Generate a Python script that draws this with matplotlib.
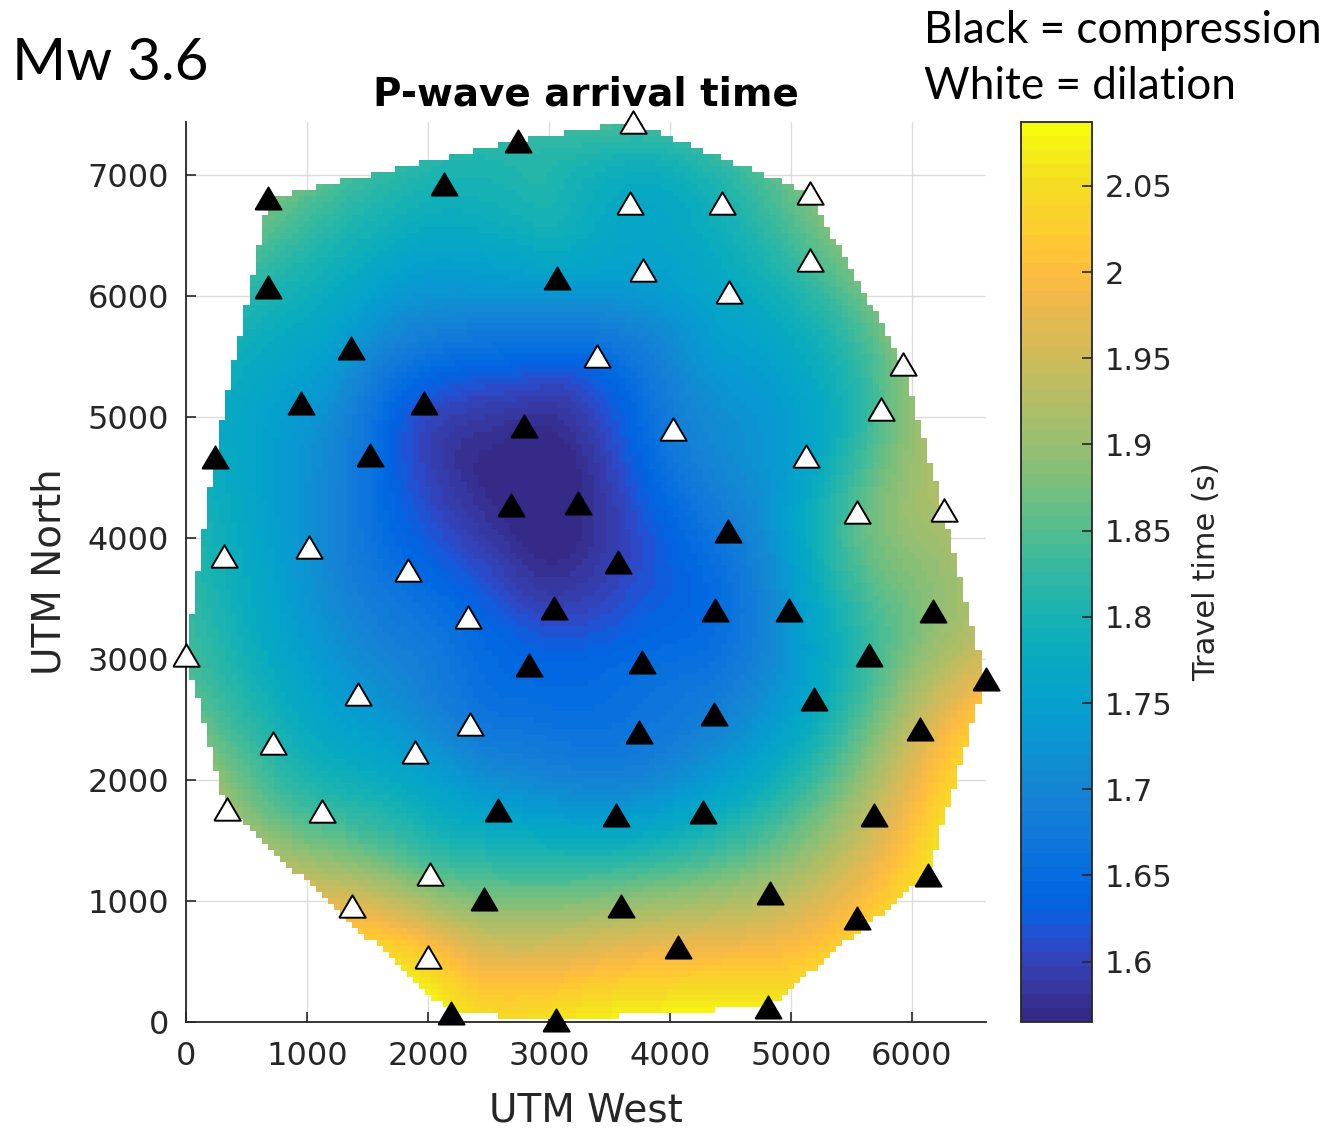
import numpy as np
import matplotlib
matplotlib.use("Agg")
import matplotlib.pyplot as plt
import matplotlib.tri as mtri
from matplotlib.colors import ListedColormap
from matplotlib.ticker import FixedLocator

# ---------------- data ----------------
station_x = [3692, 2741, 2135, 680, 3669, 4432, 5155, 680, 3069, 3774,
             4490, 5155, 1364, 3394, 5926, 948, 1964, 2793, 4027, 5746,
             240, 1523, 5124, 2683, 3237, 5543, 6262, 4482, 314, 1014,
             3568, 1837, 3044, 2328, 4372, 4986, 6174, 0, 2837, 3769,
             5645, 6612, 1424, 5188, 4364, 2347, 717, 3746, 6069, 1890,
             336, 1121, 2579, 3554, 4270, 5683, 2017, 6135, 2463, 1372,
             4829, 3595, 5545, 4064, 2000, 2188, 3055, 4812]
station_y = [7440, 7283, 6931, 6810, 6774, 6774, 6856, 6080, 6149, 6215,
             6031, 6298, 5568, 5504, 5439, 5117, 5117, 4930, 4903, 5068,
             4674, 4688, 4676, 4275, 4288, 4214, 4234, 4063, 3856, 3925,
             3801, 3738, 3421, 3347, 3410, 3410, 3394, 3031, 2954, 2975,
             3031, 2838, 2714, 2667, 2543, 2467, 2306, 2397, 2419, 2232,
             1759, 1745, 1751, 1715, 1737, 1715, 1222, 1214, 1016, 958,
             1068, 960, 856, 622, 539, 74, 20, 126]
# 1 = compression (black), 0 = dilation (white)
polarity = [0, 1, 1, 1, 0, 0, 0, 1, 1, 0,
            0, 0, 1, 0, 0, 1, 1, 1, 0, 0,
            1, 1, 0, 1, 1, 0, 0, 1, 0, 0,
            1, 0, 1, 0, 1, 1, 1, 0, 1, 1,
            1, 1, 0, 1, 1, 0, 0, 1, 1, 0,
            0, 0, 1, 1, 1, 1, 0, 1, 1, 0,
            1, 1, 1, 1, 0, 1, 1, 1]
travel_time = [1.84, 1.82, 1.80, 1.88, 1.77, 1.80, 1.88, 1.81, 1.75, 1.75,
               1.77, 1.84, 1.73, 1.65, 1.89, 1.74, 1.62, 1.575, 1.68, 1.85,
               1.78, 1.66, 1.76, 1.565, 1.568, 1.85, 1.92, 1.68, 1.79, 1.72,
               1.60, 1.65, 1.60, 1.645, 1.65, 1.73, 1.89, 1.84, 1.64, 1.65,
               1.83, 1.98, 1.73, 1.77, 1.69, 1.68, 1.81, 1.67, 1.95, 1.74,
               1.91, 1.83, 1.75, 1.74, 1.77, 1.94, 1.86, 2.06, 1.88, 1.97,
               1.92, 1.90, 2.01, 1.98, 2.02, 2.07, 2.06, 2.07]

color_limits = [1.565, 2.087]
cbar_ticks = [1.6, 1.65, 1.7, 1.75, 1.8, 1.85, 1.9, 1.95, 2.0, 2.05]
x_ticks = [0, 1000, 2000, 3000, 4000, 5000, 6000]
y_ticks = [0, 1000, 2000, 3000, 4000, 5000, 6000, 7000]

PARULA = [
    [0.2081, 0.1663, 0.5292], [0.2116, 0.1898, 0.5777], [0.2123, 0.2138, 0.6270],
    [0.2081, 0.2386, 0.6771], [0.1959, 0.2645, 0.7279], [0.1707, 0.2919, 0.7792],
    [0.1253, 0.3242, 0.8303], [0.0591, 0.3598, 0.8683], [0.0117, 0.3875, 0.8820],
    [0.0060, 0.4086, 0.8828], [0.0165, 0.4266, 0.8786], [0.0329, 0.4430, 0.8720],
    [0.0498, 0.4586, 0.8641], [0.0629, 0.4737, 0.8554], [0.0723, 0.4887, 0.8467],
    [0.0779, 0.5040, 0.8384], [0.0793, 0.5200, 0.8312], [0.0749, 0.5375, 0.8263],
    [0.0641, 0.5570, 0.8240], [0.0488, 0.5772, 0.8228], [0.0343, 0.5966, 0.8199],
    [0.0265, 0.6137, 0.8135], [0.0239, 0.6287, 0.8038], [0.0231, 0.6418, 0.7913],
    [0.0228, 0.6535, 0.7768], [0.0267, 0.6642, 0.7607], [0.0384, 0.6743, 0.7436],
    [0.0590, 0.6838, 0.7254], [0.0843, 0.6928, 0.7062], [0.1133, 0.7015, 0.6859],
    [0.1453, 0.7098, 0.6646], [0.1801, 0.7177, 0.6424], [0.2178, 0.7250, 0.6193],
    [0.2586, 0.7317, 0.5954], [0.3022, 0.7376, 0.5712], [0.3482, 0.7424, 0.5473],
    [0.3953, 0.7459, 0.5244], [0.4420, 0.7481, 0.5033], [0.4871, 0.7491, 0.4840],
    [0.5300, 0.7491, 0.4661], [0.5709, 0.7485, 0.4494], [0.6099, 0.7473, 0.4337],
    [0.6473, 0.7456, 0.4188], [0.6834, 0.7435, 0.4044], [0.7184, 0.7411, 0.3905],
    [0.7525, 0.7384, 0.3768], [0.7858, 0.7356, 0.3633], [0.8185, 0.7327, 0.3498],
    [0.8507, 0.7299, 0.3360], [0.8824, 0.7274, 0.3217], [0.9139, 0.7258, 0.3063],
    [0.9450, 0.7261, 0.2886], [0.9739, 0.7314, 0.2666], [0.9938, 0.7455, 0.2403],
    [0.9990, 0.7653, 0.2164], [0.9955, 0.7861, 0.1967], [0.9880, 0.8066, 0.1794],
    [0.9789, 0.8271, 0.1633], [0.9697, 0.8481, 0.1475], [0.9626, 0.8705, 0.1309],
    [0.9589, 0.8949, 0.1132], [0.9598, 0.9218, 0.0948], [0.9661, 0.9514, 0.0755],
    [0.9763, 0.9831, 0.0538]]
parula = ListedColormap(PARULA, name="parula")

# ---------------- figure ----------------
W, H = 1325, 1131
fig = plt.figure(figsize=(W / 100, H / 100), dpi=100)
TXT = "#262626"

ax = fig.add_axes([186 / W, 1 - 1022 / H, (986 - 186) / W, (1022 - 122) / H])

sx = np.asarray(station_x, float)
sy = np.asarray(station_y, float)
tt = np.asarray(travel_time, float)
pol = np.asarray(polarity)

tri = mtri.Triangulation(sx, sy)
interp = mtri.CubicTriInterpolator(tri, tt, kind="min_E")
step = 50
gx = np.arange(0, sx.max() + step, step)
gy = np.arange(0, sy.max() + step, step)
GX, GY = np.meshgrid(gx, gy)
Z = interp(GX, GY)

mesh = ax.pcolormesh(gx, gy, Z, cmap=parula, shading="nearest",
                     vmin=color_limits[0], vmax=color_limits[1], zorder=1)

ax.set_xlim(0, sx.max())
ax.set_ylim(0, sy.max())
ax.set_axisbelow(True)
ax.grid(True, color="#dcdcdc", linewidth=1.0)
ax.xaxis.set_major_locator(FixedLocator(x_ticks))
ax.yaxis.set_major_locator(FixedLocator(y_ticks))
ax.tick_params(direction="in", length=7, width=1.2, colors=TXT,
               labelsize=23, labelcolor=TXT)
ax.tick_params(axis="x", pad=14)
ax.tick_params(axis="y", pad=12)
for side in ("top", "right"):
    ax.spines[side].set_visible(False)
for side in ("left", "bottom"):
    ax.spines[side].set_color(TXT)
    ax.spines[side].set_linewidth(1.3)

tri_marker = [(-1, -0.85), (1, -0.85), (0, 0.85), (-1, -0.85)]
comp = pol == 1
ax.plot(sx[comp], sy[comp], linestyle="none", marker=tri_marker, markersize=19,
        markerfacecolor="black", markeredgecolor="black", markeredgewidth=1.2,
        clip_on=False, zorder=5)
ax.plot(sx[~comp], sy[~comp], linestyle="none", marker=tri_marker, markersize=19,
        markerfacecolor="white", markeredgecolor="black", markeredgewidth=1.4,
        clip_on=False, zorder=5)

# colorbar
cax = fig.add_axes([1021 / W, 1 - 1022 / H, (1092 - 1021) / W, (1022 - 122) / H])
cb = fig.colorbar(mesh, cax=cax)
cb.set_ticks(cbar_ticks)
cb.set_ticklabels([f"{v:g}" for v in cbar_ticks])
cb.outline.set_edgecolor(TXT)
cb.outline.set_linewidth(1.3)
cax.tick_params(direction="in", length=7, width=1.2, colors=TXT,
                labelsize=22, labelcolor=TXT, pad=9)
cb.set_label("Travel time (s)", fontsize=22, color=TXT, labelpad=14)

# texts
fig.text(586 / W, 1 - 106 / H, "P-wave arrival time", ha="center", va="baseline",
         fontsize=28, fontweight="bold", color="black")
fig.text(586 / W, 1 - 1121 / H, "UTM West", ha="center", va="baseline",
         fontsize=28, color=TXT)
fig.text(50 / W, 1 - 572 / H, "UTM North", ha="center", va="center",
         rotation=90, fontsize=28, color=TXT)
fig.text(12 / W, 1 - 80 / H, "Mw 3.6", ha="left", va="baseline",
         fontsize=42, family="Lato", color="black")
fig.text(924 / W, 1 - 43 / H, "Black = compression", ha="left", va="baseline",
         fontsize=31.8, family="Lato", color="black")
fig.text(924 / W, 1 - 99 / H, "White = dilation", ha="left", va="baseline",
         fontsize=31.8, family="Lato", color="black")

fig.savefig("out.png", dpi=100)
